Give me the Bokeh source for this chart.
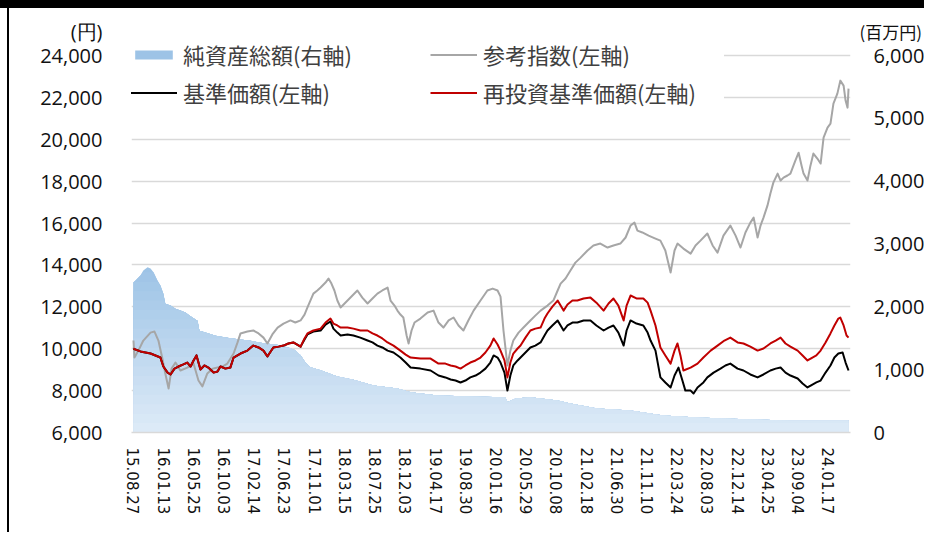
import numpy as np
from bokeh.plotting import figure
from bokeh.models import (Range1d, LinearAxis, FixedTicker, NumeralTickFormatter,
                          Legend, LegendItem)
from bokeh.embed import file_html
from bokeh.resources import INLINE

# ---------------- data ----------------
# x = trading-day index since 15.08.27; one tick label every 92 trading days
tick_labels = ["15.08.27", "16.01.13", "16.05.25", "16.10.03", "17.02.14", "17.06.23",
               "17.11.01", "18.03.15", "18.07.25", "18.12.03", "19.04.17", "19.08.30",
               "20.01.16", "20.05.29", "20.10.08", "21.02.18", "21.06.30", "21.11.10",
               "22.03.24", "22.08.03", "22.12.14", "23.04.25", "23.09.04", "24.01.17"]
label_step = 92

# 純資産総額 (million yen, right axis)
asset_day = [0, 6, 21, 30, 43, 52, 61, 73, 82, 91, 97, 113, 128, 143, 158, 174, 195, 201, 219, 250,
             295, 356, 387, 448, 478, 493, 509, 524, 539, 570, 621, 670, 731, 804, 844, 926, 1057,
             1133, 1139, 1164, 1209, 1292, 1331, 1413, 1514, 1614, 1718, 1818, 2001, 2178]
asset_val = [2390, 2420, 2500, 2580, 2630, 2610, 2550, 2420, 2340, 2210, 2050, 2020, 1970, 1940,
             1910, 1850, 1780, 1620, 1590, 1540, 1500, 1460, 1430, 1390, 1340, 1310, 1230, 1110,
             1040, 990, 890, 840, 750, 700, 640, 590, 570, 560, 480, 540, 560, 510, 460, 380, 350,
             270, 240, 220, 190, 190]

# 参考指数 (yen, left axis)
ref_day = [0, 3, 15, 30, 52, 64, 76, 88, 97, 107, 116, 128, 143, 164, 183, 198, 210, 225, 241, 256,
           271, 286, 305, 317, 326, 347, 365, 381, 396, 408, 423, 439, 457, 478, 493, 509, 521, 530,
           548, 560, 570, 585, 594, 603, 612, 621, 631, 643, 652, 667, 682, 697, 713, 728, 743, 758,
           774, 783, 795, 804, 813, 822, 832, 838, 847, 856, 874, 896, 914, 929, 944, 960, 975, 990,
           1005, 1020, 1036, 1057, 1078, 1094, 1109, 1118, 1127, 1139, 1148, 1157, 1173, 1188, 1209,
           1224, 1240, 1261, 1279, 1292, 1301, 1316, 1331, 1346, 1362, 1383, 1401, 1422, 1444, 1462,
           1483, 1499, 1514, 1526, 1535, 1550, 1569, 1590, 1605, 1620, 1636, 1648, 1657, 1675, 1697,
           1712, 1727, 1748, 1764, 1779, 1797, 1818, 1834, 1849, 1864, 1879, 1889, 1901, 1910, 1919,
           1931, 1940, 1949, 1962, 1971, 1980, 1992, 2001, 2016, 2026, 2035, 2041, 2053, 2062, 2071,
           2083, 2093, 2102, 2114, 2123, 2132, 2144, 2153, 2163, 2169, 2175, 2178]
ref_val = [10390, 9580, 9910, 10390, 10770, 10820, 10390, 9530, 8820, 8100, 9050, 9340, 8960, 9100,
           9290, 8480, 8200, 8820, 9050, 9100, 9150, 9290, 9770, 10300, 10730, 10820, 10870, 10730,
           10530, 10250, 10680, 11010, 11200, 11350, 11250, 11350, 11630, 11970, 12630, 12780, 12920,
           13160, 13350, 13110, 12780, 12300, 11970, 12160, 12300, 12540, 12780, 12440, 12160, 12400,
           12630, 12780, 12920, 12300, 12060, 11820, 11630, 11490, 10630, 10250, 10870, 11250, 11440,
           11730, 11820, 11250, 11010, 11350, 11490, 11110, 10870, 11350, 11820, 12300, 12780, 12870,
           12780, 12490, 10870, 9200, 9910, 10390, 10770, 11010, 11350, 11580, 11820, 12060, 12300,
           12780, 13110, 13350, 13730, 14110, 14350, 14690, 14930, 15020, 14830, 14930, 15020, 15310,
           15880, 16020, 15640, 15550, 15400, 15260, 15160, 14690, 13640, 14690, 15020, 14780, 14540,
           14930, 15160, 15500, 14930, 14590, 15400, 15880, 15400, 14830, 15550, 16020, 16260, 15310,
           15880, 16260, 16830, 17410, 17930, 18360, 18030, 18170, 18270, 18360, 18980, 19360, 18740,
           18360, 18030, 18740, 19320, 19080, 18840, 20080, 20560, 20750, 21700, 22180, 22800, 22560,
           21850, 21510, 22420]

# 再投資基準価額 (yen, left axis)
reinv_day = [0, 21, 52, 82, 91, 104, 113, 125, 137, 152, 164, 174, 183, 192, 204, 216, 228, 244, 256,
             265, 280, 295, 305, 326, 347, 365, 381, 396, 408, 426, 442, 457, 472, 487, 509, 521, 530,
             548, 570, 585, 600, 609, 621, 631, 652, 670, 691, 713, 728, 743, 758, 774, 792, 813, 829,
             844, 874, 905, 929, 950, 966, 981, 996, 1011, 1026, 1042, 1057, 1072, 1087, 1097, 1109,
             1118, 1130, 1139, 1148, 1157, 1170, 1179, 1194, 1209, 1224, 1240, 1252, 1261, 1276, 1292,
             1301, 1310, 1322, 1337, 1352, 1371, 1392, 1410, 1432, 1447, 1462, 1477, 1493, 1502, 1514,
             1532, 1553, 1566, 1575, 1590, 1605, 1620, 1636, 1648, 1657, 1666, 1675, 1697, 1718, 1736,
             1758, 1779, 1800, 1818, 1840, 1858, 1879, 1901, 1919, 1940, 1956, 1971, 1986, 2001, 2023,
             2038, 2053, 2068, 2080, 2093, 2108, 2123, 2135, 2147, 2153, 2163, 2172, 2178]
reinv_val = [10000, 9870, 9770, 9580, 9150, 8860, 8770, 9050, 9150, 9250, 9340, 9150, 9440, 9680,
             9010, 9200, 9100, 8860, 8910, 9150, 9050, 9100, 9580, 9770, 9910, 10150, 10060, 9910,
             9630, 10060, 10100, 10150, 10250, 10300, 10100, 10490, 10730, 10870, 10960, 11250, 11440,
             11200, 11110, 11010, 11010, 10960, 10870, 10870, 10730, 10630, 10490, 10300, 10150, 9910,
             9720, 9580, 9530, 9530, 9290, 9290, 9200, 9150, 9050, 9200, 9340, 9440, 9580, 9820, 10150,
             10490, 10200, 9910, 9440, 8630, 9340, 9770, 10010, 10150, 10530, 10870, 10960, 11010,
             11440, 11680, 12010, 12300, 12060, 11820, 12110, 12300, 12300, 12400, 12440, 12200, 11820,
             12160, 12400, 12060, 11350, 12060, 12540, 12400, 12400, 12200, 11820, 11110, 10060, 9680,
             9290, 9910, 10250, 9680, 8960, 9100, 9290, 9580, 9910, 10150, 10390, 10530, 10300, 10250,
             10100, 9910, 10010, 10250, 10390, 10530, 10250, 10100, 9910, 9680, 9440, 9580, 9680, 9910,
             10300, 10730, 11110, 11440, 11490, 11110, 10630, 10530]

# 基準価額 (yen, left axis)
nav_day = [0, 21, 52, 82, 91, 104, 113, 125, 137, 152, 164, 174, 183, 192, 204, 216, 228, 244, 256,
           265, 280, 295, 305, 326, 347, 365, 381, 396, 408, 426, 442, 457, 472, 487, 509, 521, 530,
           548, 570, 585, 600, 609, 621, 631, 652, 670, 691, 713, 728, 743, 758, 774, 792, 813, 829,
           844, 874, 905, 929, 950, 966, 981, 996, 1011, 1026, 1042, 1057, 1072, 1087, 1097, 1109,
           1118, 1130, 1139, 1148, 1157, 1170, 1179, 1194, 1209, 1224, 1240, 1252, 1261, 1276, 1292,
           1301, 1310, 1322, 1337, 1352, 1371, 1392, 1410, 1432, 1447, 1462, 1477, 1493, 1502, 1514,
           1532, 1553, 1566, 1575, 1590, 1605, 1620, 1636, 1648, 1660, 1672, 1681, 1697, 1706, 1718,
           1736, 1748, 1767, 1788, 1803, 1818, 1840, 1858, 1879, 1901, 1919, 1940, 1956, 1971, 1986,
           2001, 2023, 2038, 2053, 2068, 2080, 2093, 2108, 2123, 2135, 2147, 2160, 2169, 2178]
nav_val = [10000, 9870, 9770, 9580, 9150, 8860, 8770, 9050, 9150, 9250, 9340, 9150, 9440, 9680,
           9010, 9200, 9100, 8860, 8910, 9150, 9050, 9100, 9580, 9770, 9910, 10150, 10060, 9910,
           9630, 10060, 10100, 10150, 10250, 10300, 10100,
           10440, 10680, 10820, 10870, 11150, 11300, 10960, 10770, 10630, 10680,
           10630, 10530, 10390, 10300, 10150, 10060, 9910, 9820, 9580, 9340,
           9100, 9050, 8960, 8720, 8630, 8530, 8480, 8390, 8480, 8630,
           8720, 8860, 9050, 9340, 9680, 9580, 9340, 8860, 8000, 8720,
           9200, 9440, 9580, 9820, 10060, 10150, 10300, 10630, 10870, 11110,
           11350, 11110, 10870, 11110, 11250, 11250, 11350, 11350, 11110, 10870,
           11010, 11110, 10770, 10150, 10870, 11350, 11200, 11110, 10770, 10390,
           9910, 8630, 8390, 8150, 8720, 9100, 8480, 8000, 8000, 7860,
           8150, 8390, 8630, 8860, 9050, 9200, 9290, 9050, 8960, 8770,
           8630, 8770, 8960, 9050, 9100, 8860, 8720, 8580, 8340, 8150,
           8290, 8390, 8480, 8860, 9200, 9580, 9770, 9820, 9340, 8960]

left_ticks = list(range(6000, 24001, 2000))
right_ticks = list(range(0, 6001, 1000))
left_unit = "(円)"
right_unit = "(百万円)"

# ---------------- figure ----------------
# canvas sits at page (9, 8); black band above it and a thin black rule at x=7..9.
p = figure(width=924, height=532, output_backend="svg", toolbar_location=None,
           x_range=Range1d(-6, 2184), y_range=Range1d(6000, 25193),
           min_border_left=122, min_border_right=83, min_border_top=22, min_border_bottom=108,
           styles={"position": "fixed", "top": "0px", "left": "0px",
                   "border-top": "8px solid black", "padding-left": "9px",
                   "background": "linear-gradient(to right, #ffffff 0px, #ffffff 7px, "
                                 "#000000 7px, #000000 9px, #ffffff 9px)"})
p.extra_y_ranges = {"right": Range1d(0, 6398)}
p.outline_line_color = None
p.background_fill_color = "white"
p.border_fill_color = "white"

# right-hand unit caption, placed through the plot title (it sits outside the frame)
p.title.text = right_unit
p.title.align = "left"
p.title.offset = 728
p.title.vertical_align = "bottom"
p.title.standoff = -26
p.title.text_font = "Noto Sans CJK JP"
p.title.text_font_size = "17px"
p.title.text_font_style = "normal"
p.title.text_color = "#111111"

p.xgrid.visible = False
p.ygrid.ticker = FixedTicker(ticks=left_ticks)
p.ygrid.grid_line_color = "#D9D9D9"
p.ygrid.grid_line_width = 1.5

TICK_FONT = "Open Sans"
left_unit_pos = 25146     # position of the unit caption on the left scale

ly = p.yaxis[0]
ly.ticker = FixedTicker(ticks=left_ticks + [left_unit_pos])
ly.formatter = NumeralTickFormatter(format="0,0")
ly.major_label_overrides = {left_unit_pos: left_unit}
ly.axis_line_color = None
ly.major_tick_line_color = None
ly.minor_tick_line_color = None
ly.major_tick_out = 0
ly.major_label_standoff = 29
ly.major_label_text_font = TICK_FONT
ly.major_label_text_font_size = "20px"
ly.major_label_text_color = "#111111"

ry = LinearAxis(y_range_name="right", ticker=FixedTicker(ticks=right_ticks),
                formatter=NumeralTickFormatter(format="0,0"))
ry.axis_line_color = None
ry.major_tick_line_color = None
ry.minor_tick_line_color = None
ry.major_tick_out = 0
ry.major_label_standoff = 23
ry.major_label_text_font = TICK_FONT
ry.major_label_text_font_size = "20px"
ry.major_label_text_color = "#111111"
p.add_layout(ry, "right")

xa = p.xaxis[0]
tick_pos = [label_step * i for i in range(len(tick_labels))]
xa.ticker = FixedTicker(ticks=tick_pos)
xa.major_label_overrides = {t: s for t, s in zip(tick_pos, tick_labels)}
xa.major_label_orientation = "vertical"
xa.axis_line_color = "#D9D9D9"
xa.axis_line_width = 1.5
xa.major_tick_line_color = None
xa.minor_tick_line_color = None
xa.major_tick_out = 0
xa.major_label_standoff = 15
xa.major_label_text_font = "DejaVu Sans"
xa.major_label_text_font_size = "15px"
xa.major_label_text_color = "#111111"

# ---------------- net assets area with a vertical gradient ----------------
asset = np.array(asset_val, dtype=float)
edges = np.linspace(0, 2700, 19)
c_bot = (0xDE, 0xEB, 0xF7)
c_top = (0x9B, 0xC2, 0xE6)


def mix(t):
    return "#%02x%02x%02x" % tuple(int(round(a + (b - a) * t)) for a, b in zip(c_bot, c_top))


area_legend_r = None
for k in range(len(edges) - 2, -1, -1):
    t = (edges[k] + edges[k + 1]) / 2 / edges[-1]
    y2 = np.minimum(asset, edges[k + 1])
    r = p.varea(x=asset_day, y1=np.zeros_like(asset), y2=y2, fill_color=mix(t),
                fill_alpha=1.0, y_range_name="right")
    if area_legend_r is None:
        area_legend_r = r

# ---------------- lines ----------------
r_ref = p.line(ref_day, ref_val, line_color="#A6A6A6", line_width=2, line_join="round")
r_nav = p.line(nav_day, nav_val, line_color="#000000", line_width=2, line_join="round")
r_re = p.line(reinv_day, reinv_val, line_color="#C00000", line_width=2, line_join="round")

legend = Legend(items=[LegendItem(label="純資産総額(右軸)", renderers=[area_legend_r]),
                       LegendItem(label="参考指数(左軸)", renderers=[r_ref]),
                       LegendItem(label="基準価額(左軸)", renderers=[r_nav]),
                       LegendItem(label="再投資基準価額(左軸)", renderers=[r_re])],
                location=(-1, 324), orientation="horizontal", ncols=2,
                glyph_width=47, glyph_height=11, label_standoff=6, label_width=241,
                label_height=26, spacing=6, padding=7, margin=0,
                label_text_font="Noto Sans CJK JP", label_text_font_size="22px",
                label_text_color="#404040", background_fill_color="white",
                background_fill_alpha=1.0, border_line_color=None)
p.add_layout(legend)

open("out.html", "w").write(file_html(p, INLINE))
